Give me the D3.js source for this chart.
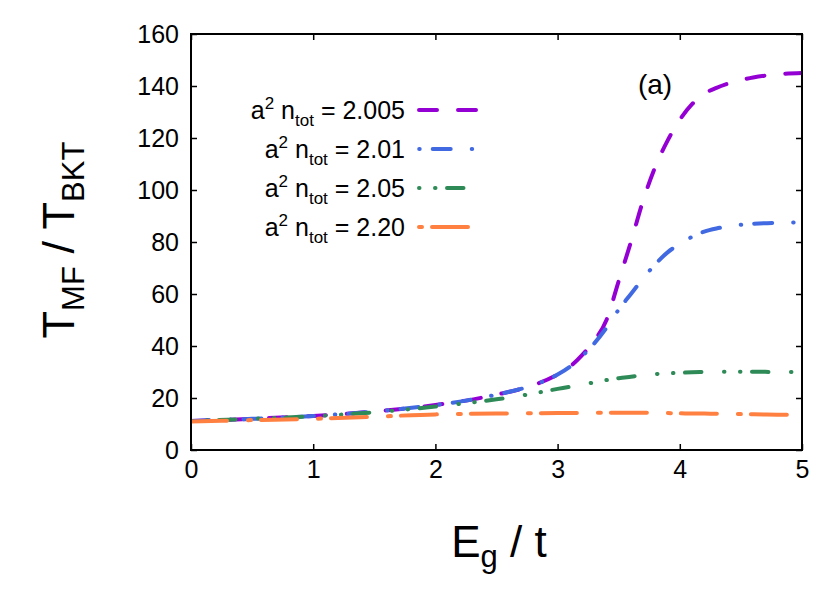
<!DOCTYPE html>
<html lang="en">
<head>
    <meta charset="utf-8">
    <script src="https://d3js.org/d3.v7.min.js"></script>
    <style>
        body { margin: 0; background: #fff; }
        text { font-family: "Liberation Sans", Arial, sans-serif; fill: #000; }
    </style>
</head>
<body>
<script>
    // shared E_g/t grid
    var eg = [0, 0.5, 1, 1.5, 2, 2.25, 2.5, 2.75, 3, 3.1, 3.2, 3.3, 3.4, 3.5, 3.6, 3.7, 3.8, 3.9,
              4, 4.1, 4.2, 4.3, 4.4, 4.5, 4.6, 4.8, 5];

    // T_MF / T_BKT for each density
    var n2005 = [11.2, 12.0, 13.1, 14.8, 17.3, 19.0, 21.3, 24.2, 29, 32, 36.5, 42, 50, 65, 80, 96, 109, 119,
                 127, 133, 137, 139.3, 141, 142.3, 143.3, 144.5, 145];
    var n201  = [11.2, 12.0, 13.1, 14.8, 17.3, 19.0, 21.3, 24.2, 29, 32, 36, 41, 47, 54, 60, 66, 71.5, 76,
                 79.3, 82, 84, 85.2, 86, 86.6, 87, 87.4, 87.5];
    var n205  = [11.2, 12.0, 13.0, 14.5, 16.7, 18.0, 19.5, 21.3, 23.5, 24.3, 25.2, 26, 26.9, 27.6, 28.2, 28.8, 29.2, 29.5,
                 29.7, 29.9, 30, 30.1, 30.1, 30.1, 30.1, 30, 30];
    var n220  = [11.0, 11.5, 12.0, 12.8, 13.7, 13.9, 14.0, 14.1, 14.2, 14.2, 14.25, 14.3, 14.3, 14.3, 14.3, 14.3, 14.25, 14.2,
                 14.1, 14.05, 14.0, 13.95, 13.9, 13.8, 13.75, 13.6, 13.5];

    var labels = ["2.005", "2.01", "2.05", "2.20"];
    var colors = ["#9400d3", "#4169e1", "#2e8b57", "#ff8040"];
    var dashes = ["18,21", "18,21,0.5,13", "0.5,15.5,0.5,11.5,16.5,22.5", "36,21,3,10"];
    var legOffset = [0, 38.8, 0, 57];
    var xTicks = [0, 1, 2, 3, 4, 5];
    var yTicks = [0, 20, 40, 60, 80, 100, 120, 140, 160];

    var series = [n2005, n201, n205, n220];

    var width = 830, height = 592;
    var mLeft = 191, mRight = 802, mTop = 34, mBottom = 450;

    var svg = d3.select("body").append("svg").attr("width", width).attr("height", height);

    var x = d3.scaleLinear().domain([0, 5]).range([mLeft, mRight]);
    var y = d3.scaleLinear().domain([0, 160]).range([mBottom, mTop]);

    svg.append("clipPath").attr("id", "plot")
        .append("rect").attr("x", mLeft).attr("y", mTop).attr("width", mRight - mLeft).attr("height", mBottom - mTop);

    // curves
    var line = d3.line()
        .x(function(d) { return x(d[0]); })
        .y(function(d) { return y(d[1]); })
        .curve(d3.curveMonotoneX);

    series.forEach(function(s, i) {
        svg.append("path")
            .datum(eg.map(function(e, j) { return [e, s[j]]; }))
            .attr("clip-path", "url(#plot)")
            .attr("fill", "none")
            .attr("stroke", colors[i])
            .attr("stroke-width", 4)
            .attr("stroke-linecap", "round")
            .attr("stroke-dasharray", dashes[i])
            .attr("d", line);
    });

    // axes with inward ticks on all four sides
    var tick = 6, fmt = d3.format("d");
    svg.append("g").attr("transform", "translate(0," + mBottom + ")")
        .call(d3.axisBottom(x).tickValues(xTicks).tickSizeInner(-tick).tickSizeOuter(0).tickPadding(10).tickFormat(fmt));
    svg.append("g").attr("transform", "translate(0," + mTop + ")")
        .call(d3.axisTop(x).tickValues(xTicks).tickSizeInner(-tick).tickSizeOuter(0).tickFormat(""));
    svg.append("g").attr("transform", "translate(" + mLeft + ",0)")
        .call(d3.axisLeft(y).tickValues(yTicks).tickSizeInner(-tick).tickSizeOuter(0).tickPadding(12).tickFormat(fmt));
    svg.append("g").attr("transform", "translate(" + mRight + ",0)")
        .call(d3.axisRight(y).tickValues(yTicks).tickSizeInner(-tick).tickSizeOuter(0).tickFormat(""));

    svg.selectAll(".domain").remove();
    svg.selectAll(".tick line").attr("stroke", "#000").attr("stroke-width", 1.5);
    svg.selectAll(".tick text").attr("font-size", 25).attr("font-family", "'Liberation Sans', Arial, sans-serif");

    svg.append("rect")
        .attr("x", mLeft).attr("y", mTop).attr("width", mRight - mLeft).attr("height", mBottom - mTop)
        .attr("fill", "none").attr("stroke", "#000").attr("stroke-width", 2);

    // legend
    var leg = svg.append("g");
    labels.forEach(function(lab, i) {
        var ly = 110 + i * 39;
        var t = leg.append("text")
            .attr("x", 405).attr("y", ly + 9)
            .attr("text-anchor", "end")
            .attr("font-size", 25);
        t.append("tspan").text("a");
        t.append("tspan").attr("dy", -10).attr("font-size", 17).text("2");
        t.append("tspan").attr("dy", 10).text(" n");
        t.append("tspan").attr("dy", 7).attr("font-size", 17).text("tot");
        t.append("tspan").attr("dy", -7).text(" = " + lab);

        leg.append("line")
            .attr("x1", 419).attr("x2", 477)
            .attr("y1", ly).attr("y2", ly)
            .attr("stroke", colors[i])
            .attr("stroke-width", 4)
            .attr("stroke-linecap", "round")
            .attr("stroke-dasharray", dashes[i])
            .attr("stroke-dashoffset", legOffset[i]);
    });

    svg.append("text").attr("x", 655).attr("y", 94).attr("text-anchor", "middle")
        .attr("font-size", 28).text("(a)");

    // axis titles
    var xt = svg.append("text").attr("x", 499).attr("y", 557).attr("text-anchor", "middle").attr("font-size", 44);
    xt.append("tspan").text("E");
    xt.append("tspan").attr("dy", 10).attr("font-size", 31).text("g");
    xt.append("tspan").attr("dy", -10).text(" / t");

    var yt = svg.append("text").attr("transform", "translate(74,240) rotate(-90)")
        .attr("text-anchor", "middle").attr("font-size", 45);
    yt.append("tspan").text("T");
    yt.append("tspan").attr("dy", 10).attr("font-size", 31).text("MF");
    yt.append("tspan").attr("dy", -10).text(" / T");
    yt.append("tspan").attr("dy", 10).attr("font-size", 31).text("BKT");
</script>
</body>
</html>
